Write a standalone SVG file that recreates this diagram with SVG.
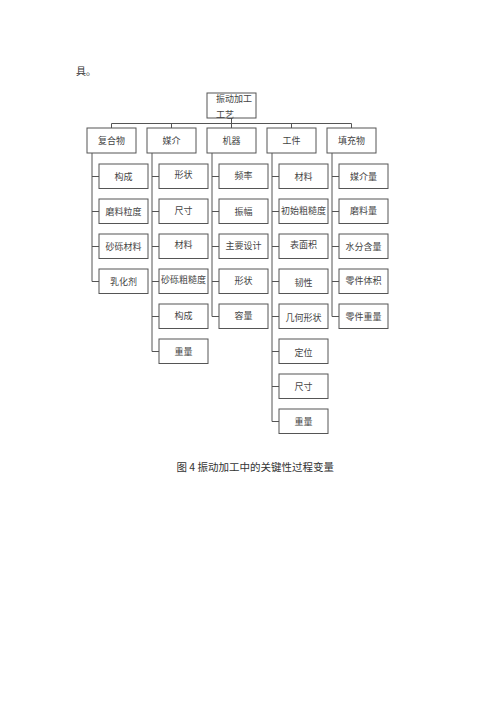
<svg xmlns="http://www.w3.org/2000/svg" width="500" height="707" viewBox="0 0 500 707">
<style>
.b{fill:#fff;stroke:#555;stroke-width:1}
.t{font-family:"Noto Sans CJK SC","Liberation Serif",serif;font-size:9px;fill:#444;text-anchor:middle}
.c line,.c path{stroke:#555;stroke-width:1;fill:none}
.p{font-family:"Liberation Serif","Noto Sans CJK SC",serif;font-size:10.5px;fill:#333}
</style>
<rect width="500" height="707" fill="#fff"/>
<text class="p" x="76" y="74.5" style="font-family:'Noto Sans CJK SC',serif;font-size:10px">具。</text>
<g class="c" id="connectors">
<line x1="231.5" y1="118" x2="231.5" y2="123.5"/>
<line x1="111.5" y1="123.5" x2="351.5" y2="123.5"/>
<line x1="111.5" y1="123.5" x2="111.5" y2="128"/>
<line x1="171.5" y1="123.5" x2="171.5" y2="128"/>
<line x1="231.5" y1="123.5" x2="231.5" y2="128"/>
<line x1="291.5" y1="123.5" x2="291.5" y2="128"/>
<line x1="351.5" y1="123.5" x2="351.5" y2="128"/>
<!-- 复合物 -->
<path d="M92,153 V281.5 H99 M92,176.5 H99 M92,211.5 H99 M92,246.5 H99"/>
<!-- 媒介 -->
<path d="M152,153 V351.5 H159 M152,176.5 H159 M152,211.5 H159 M152,246.5 H159 M152,281.5 H159 M152,316.5 H159"/>
<!-- 机器 -->
<path d="M212,153 V316.5 H219 M212,176.5 H219 M212,211.5 H219 M212,246.5 H219 M212,281.5 H219"/>
<!-- 工件 -->
<path d="M272,153 V421.5 H279 M272,176.5 H279 M272,211.5 H279 M272,246.5 H279 M272,281.5 H279 M272,316.5 H279 M272,351.5 H279 M272,386.5 H279"/>
<!-- 填充物 -->
<path d="M332,153 V316.5 H339 M332,176.5 H339 M332,211.5 H339 M332,246.5 H339 M332,281.5 H339"/>
</g>
<g id="root"><rect class="b" x="207" y="93" width="49" height="25"/><text class="t" x="216" y="102" style="text-anchor:start">振动加工</text><text class="t" x="216" y="117.5" style="text-anchor:start">工艺</text></g>
<g id="n-fuhewu"><rect class="b" x="87" y="128" width="49" height="25"/><text class="t" x="111.5" y="144">复合物</text></g>
<g id="n-meijie"><rect class="b" x="147" y="128" width="49" height="25"/><text class="t" x="171.5" y="144">媒介</text></g>
<g id="n-jiqi"><rect class="b" x="207" y="128" width="49" height="25"/><text class="t" x="231.5" y="144">机器</text></g>
<g id="n-gongjian"><rect class="b" x="267" y="128" width="49" height="25"/><text class="t" x="291.5" y="144">工件</text></g>
<g id="n-tianchongwu"><rect class="b" x="327" y="128" width="49" height="25"/><text class="t" x="351.5" y="144">填充物</text></g>

<g id="f1"><rect class="b" x="99" y="164" width="49" height="24.5"/><text class="t" x="123.5" y="180">构成</text></g>
<g id="f2"><rect class="b" x="99" y="199" width="49" height="24.5"/><text class="t" x="123.5" y="215">磨料粒度</text></g>
<g id="f3"><rect class="b" x="99" y="234" width="49" height="24.5"/><text class="t" x="123.5" y="250">砂砾材料</text></g>
<g id="f4"><rect class="b" x="99" y="269" width="49" height="24.5"/><text class="t" x="123.5" y="285">乳化剂</text></g>

<g id="m1"><rect class="b" x="159" y="164" width="49" height="24.5"/><text class="t" x="183.5" y="178">形状</text></g>
<g id="m2"><rect class="b" x="159" y="199" width="49" height="24.5"/><text class="t" x="183.5" y="214">尺寸</text></g>
<g id="m3"><rect class="b" x="159" y="234" width="49" height="24.5"/><text class="t" x="183.5" y="248">材料</text></g>
<g id="m4"><rect class="b" x="159" y="269" width="49" height="24.5"/><text class="t" x="183.5" y="283">砂砾粗糙度</text></g>
<g id="m5"><rect class="b" x="159" y="304" width="49" height="24.5"/><text class="t" x="183.5" y="319">构成</text></g>
<g id="m6"><rect class="b" x="159" y="339" width="49" height="24.5"/><text class="t" x="183.5" y="355">重量</text></g>

<g id="j1"><rect class="b" x="219" y="164" width="49" height="24.5"/><text class="t" x="243.5" y="179">频率</text></g>
<g id="j2"><rect class="b" x="219" y="199" width="49" height="24.5"/><text class="t" x="243.5" y="215">振幅</text></g>
<g id="j3"><rect class="b" x="219" y="234" width="49" height="24.5"/><text class="t" x="243.5" y="249">主要设计</text></g>
<g id="j4"><rect class="b" x="219" y="269" width="49" height="24.5"/><text class="t" x="243.5" y="284">形状</text></g>
<g id="j5"><rect class="b" x="219" y="304" width="49" height="24.5"/><text class="t" x="243.5" y="319">容量</text></g>

<g id="g1"><rect class="b" x="279" y="164" width="49" height="24.5"/><text class="t" x="303.5" y="180">材料</text></g>
<g id="g2"><rect class="b" x="279" y="199" width="49" height="24.5"/><text class="t" x="303.5" y="214">初始粗糙度</text></g>
<g id="g3"><rect class="b" x="279" y="234" width="49" height="24.5"/><text class="t" x="303.5" y="248">表面积</text></g>
<g id="g4"><rect class="b" x="279" y="269" width="49" height="24.5"/><text class="t" x="303.5" y="286">韧性</text></g>
<g id="g5"><rect class="b" x="279" y="304" width="49" height="24.5"/><text class="t" x="303.5" y="321">几何形状</text></g>
<g id="g6"><rect class="b" x="279" y="339" width="49" height="24.5"/><text class="t" x="303.5" y="356">定位</text></g>
<g id="g7"><rect class="b" x="279" y="374" width="49" height="24.5"/><text class="t" x="303.5" y="390">尺寸</text></g>
<g id="g8"><rect class="b" x="279" y="409" width="49" height="24.5"/><text class="t" x="303.5" y="425">重量</text></g>

<g id="t1"><rect class="b" x="339" y="164" width="49" height="24.5"/><text class="t" x="363.5" y="180">媒介量</text></g>
<g id="t2"><rect class="b" x="339" y="199" width="49" height="24.5"/><text class="t" x="363.5" y="214">磨料量</text></g>
<g id="t3"><rect class="b" x="339" y="234" width="49" height="24.5"/><text class="t" x="363.5" y="250">水分含量</text></g>
<g id="t4"><rect class="b" x="339" y="269" width="49" height="24.5"/><text class="t" x="363.5" y="284">零件体积</text></g>
<g id="t5"><rect class="b" x="339" y="304" width="49" height="24.5"/><text class="t" x="363.5" y="320">零件重量</text></g>

<text class="p" x="176.5" y="470.5" style="font-family:'Noto Sans CJK SC',serif;font-size:10.5px">图 4 振动加工中的关键性过程变量</text>
</svg>
